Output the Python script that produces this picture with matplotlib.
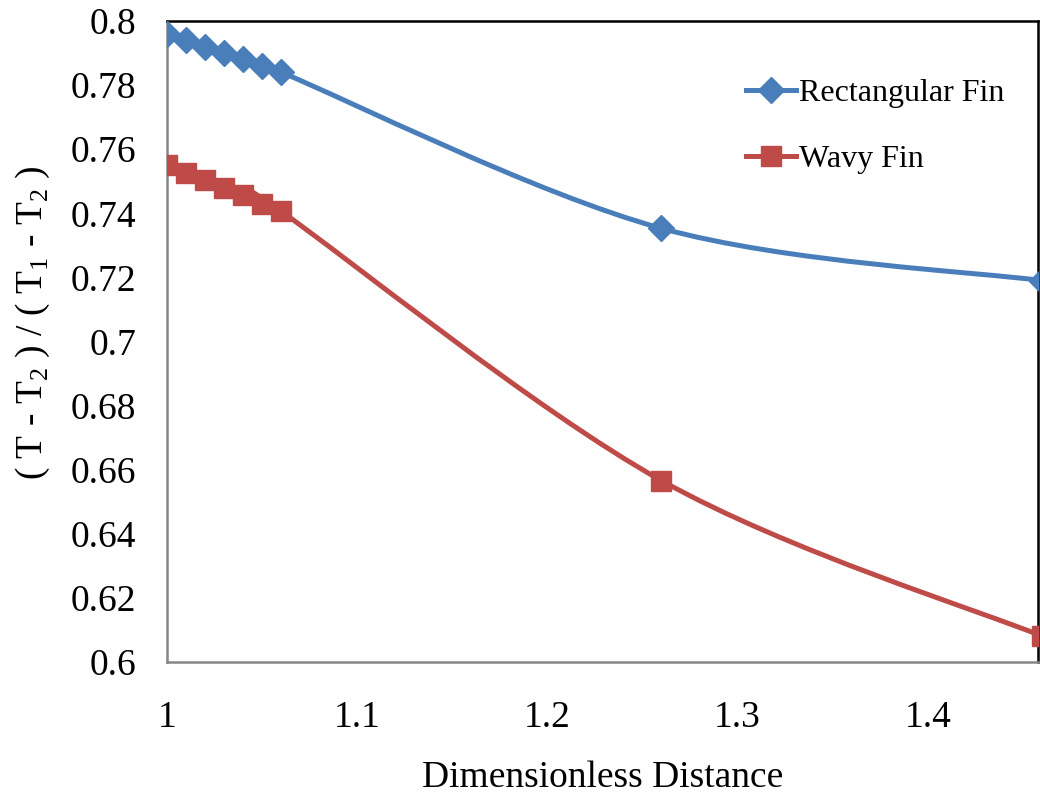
import numpy as np
import matplotlib
matplotlib.use('Agg')
import matplotlib.pyplot as plt
from matplotlib.path import Path
from matplotlib.patches import PathPatch
from matplotlib.lines import Line2D

plt.rcParams['font.family'] = 'Liberation Serif'
plt.rcParams['mathtext.fontset'] = 'custom'
plt.rcParams['mathtext.rm'] = 'Liberation Serif'

distance = [1.00, 1.01, 1.02, 1.03, 1.04, 1.05, 1.06, 1.26, 1.46]
rect_fin = [0.796, 0.794, 0.792, 0.790, 0.788, 0.786, 0.784, 0.7353, 0.719]
wavy_fin = [0.755, 0.7525, 0.7503, 0.748, 0.7456, 0.743, 0.7406, 0.6566, 0.6081]

x_ticks = [1, 1.1, 1.2, 1.3, 1.4]
y_ticks = [0.6, 0.62, 0.64, 0.66, 0.68, 0.7, 0.72, 0.74, 0.76, 0.78, 0.8]

blue = '#4A7EBB'
red = '#BE4B48'


def smooth_path(xs, ys):
    # Excel-like smoothed line: Catmull-Rom segments as cubic Bezier curves
    p = np.column_stack([xs, ys])
    n = len(p)
    verts = [p[0]]
    codes = [Path.MOVETO]
    for i in range(n - 1):
        p0 = p[i - 1] if i > 0 else p[i]
        p3 = p[i + 2] if i + 2 < n else p[i + 1]
        c1 = p[i] + (p[i + 1] - p0) / 6
        c2 = p[i + 1] - (p3 - p[i]) / 6
        verts += [c1, c2, p[i + 1]]
        codes += [Path.CURVE4] * 3
    return Path(verts, codes)


fig = plt.figure(figsize=(10.4, 8.01), dpi=100)
ax = fig.add_axes([0.1606, 0.1735, 0.8375, 0.8003])

for ys, col, mk, ms in [(rect_fin, blue, 'D', 13), (wavy_fin, red, 's', 14)]:
    patch = PathPatch(smooth_path(distance, ys), facecolor='none', edgecolor=col,
                      lw=3.6, capstyle='round', joinstyle='round')
    ax.add_patch(patch)
    ax.plot(distance, ys, linestyle='none', marker=mk, markersize=ms,
            color=col, markeredgecolor=col, zorder=3)

ax.set_xlim(1, 1.458)
ax.set_ylim(0.6, 0.8)
ax.set_xticks(x_ticks)
ax.set_xticklabels(['1', '1.1', '1.2', '1.3', '1.4'])
ax.set_yticks(y_ticks)
ax.set_yticklabels(['0.6', '0.62', '0.64', '0.66', '0.68', '0.7', '0.72', '0.74', '0.76', '0.78', '0.8'])
ax.tick_params(axis='both', length=0, labelsize=27)
ax.tick_params(axis='x', pad=28)
ax.tick_params(axis='y', pad=22)

for s in ['left', 'bottom']:
    ax.spines[s].set_color('#868686')
    ax.spines[s].set_linewidth(1.8)
for s in ['top', 'right']:
    ax.spines[s].set_color('black')
    ax.spines[s].set_linewidth(1.8)

ax.set_xlabel('Dimensionless Distance', fontsize=27, labelpad=18)
fig.text(0.032, (801 - 323) / 801, '( T - T$_2$ ) / ( T$_1$ - T$_2$ )',
         rotation=90, ha='center', va='center', fontsize=27)

handles = [Line2D([], [], color=blue, lw=3.6, marker='D', markersize=13),
           Line2D([], [], color=red, lw=3.6, marker='s', markersize=14)]
ax.legend(handles, ['Rectangular Fin', 'Wavy Fin'], loc='upper left',
          bbox_to_anchor=(0.632, 0.955), frameon=False, fontsize=23,
          handlelength=1.55, handletextpad=0.1, labelspacing=1.15)

plt.savefig('out.png', dpi=100)
